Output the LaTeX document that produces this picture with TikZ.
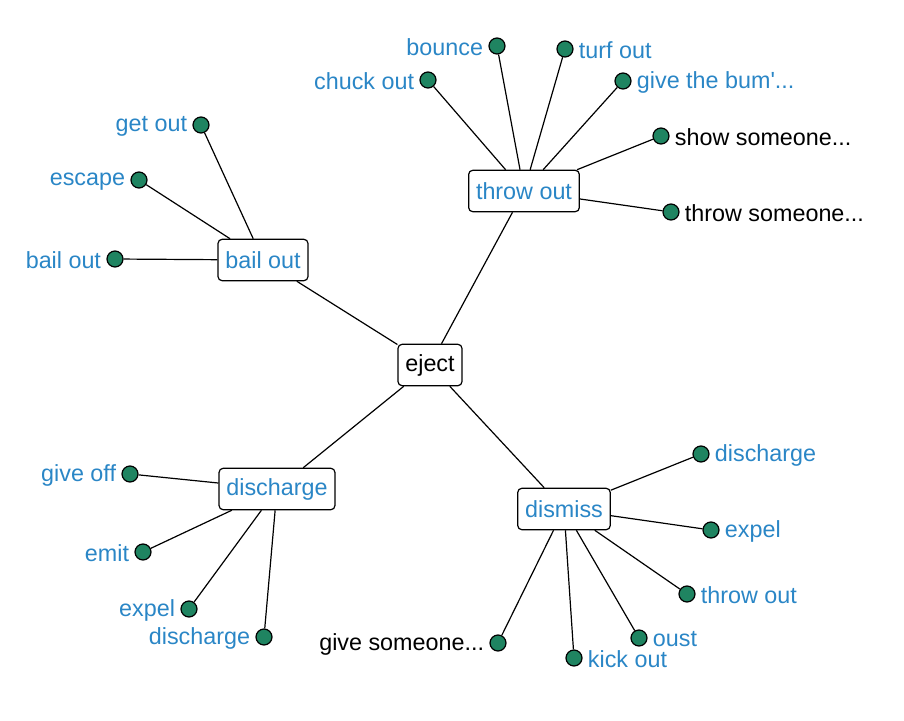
\documentclass[tikz,border=0pt]{standalone}
\usepackage{fontspec}
\setmainfont{Liberation Sans}
\usepackage{tikz}
\usetikzlibrary{positioning}
\definecolor{wordblue}{HTML}{2A86C6}
\definecolor{dotgreen}{HTML}{1F8461}

\begin{document}
\begin{tikzpicture}[
  x=0.75pt,y=-0.75pt,
  every node/.style={font=\fontsize{17.5}{20}\selectfont},
  hub/.style={draw,fill=white,rounded corners=3pt,line width=0.9pt,minimum height=31pt,inner xsep=5.5pt,text=wordblue},
  leaf/.style={circle,draw,fill=dotgreen,line width=0.9pt,minimum size=12pt,inner sep=0pt},
  lbl/.style={text=wordblue,label distance=0.5pt,yshift=-1pt},
  plain/.style={text=black,label distance=0.5pt,yshift=-1pt},
  edge/.style={line width=0.9pt}
]
\useasboundingbox (0,0) rectangle (904,721);
% centre and the four senses
\node[hub,text=black] (eject) at (430,365) {eject};
\node[hub] (throwout) at (524,191) {throw out};
\node[hub] (bailout) at (263,260) {bail out};
\node[hub] (discharge) at (277,489) {discharge};
\node[hub] (dismiss) at (564,509) {dismiss};
% throw out
\node[leaf,label={[lbl]left:bounce}] (bounce) at (497,46) {};
\node[leaf,label={[lbl]right:turf out}] (turfout) at (565,49) {};
\node[leaf,label={[lbl]left:chuck out}] (chuckout) at (428,80) {};
\node[leaf,label={[lbl]right:give the bum\textquotesingle...}] (givebum) at (623,81) {};
\node[leaf,label={[plain]right:show someone...}] (showsome) at (661,136) {};
\node[leaf,label={[plain]right:throw someone...}] (throwsome) at (671,212) {};
% bail out
\node[leaf,label={[lbl]left:get out}] (getout) at (201,125) {};
\node[leaf,label={[lbl]left:escape}] (escape) at (139,180) {};
\node[leaf,label={[lbl]left:bail out}] (bailleaf) at (115,259) {};
% discharge
\node[leaf,label={[lbl]left:give off}] (giveoff) at (130,474) {};
\node[leaf,label={[lbl]left:emit}] (emit) at (143,552) {};
\node[leaf,label={[lbl]left:expel}] (expelA) at (189,609) {};
\node[leaf,label={[lbl]left:discharge}] (dischargeA) at (264,637) {};
% dismiss
\node[leaf,label={[lbl]right:discharge}] (dischargeB) at (701,454) {};
\node[leaf,label={[lbl]right:expel}] (expelB) at (711,530) {};
\node[leaf,label={[lbl]right:throw out}] (throwleaf) at (687,594) {};
\node[leaf,label={[lbl]right:oust}] (oust) at (639,638) {};
\node[leaf,label={[lbl]right:kick out}] (kickout) at (574,658) {};
\node[leaf,label={[plain]left:give someone...}] (givesome) at (498,643) {};

\draw[edge] (eject) -- (throwout);
\draw[edge] (eject) -- (bailout);
\draw[edge] (eject) -- (discharge);
\draw[edge] (eject) -- (dismiss);
\draw[edge] (throwout) -- (bounce);
\draw[edge] (throwout) -- (turfout);
\draw[edge] (throwout) -- (chuckout);
\draw[edge] (throwout) -- (givebum);
\draw[edge] (throwout) -- (showsome);
\draw[edge] (throwout) -- (throwsome);
\draw[edge] (bailout) -- (getout);
\draw[edge] (bailout) -- (escape);
\draw[edge] (bailout) -- (bailleaf);
\draw[edge] (discharge) -- (giveoff);
\draw[edge] (discharge) -- (emit);
\draw[edge] (discharge) -- (expelA);
\draw[edge] (discharge) -- (dischargeA);
\draw[edge] (dismiss) -- (dischargeB);
\draw[edge] (dismiss) -- (expelB);
\draw[edge] (dismiss) -- (throwleaf);
\draw[edge] (dismiss) -- (oust);
\draw[edge] (dismiss) -- (kickout);
\draw[edge] (dismiss) -- (givesome);
\end{tikzpicture}
\end{document}
